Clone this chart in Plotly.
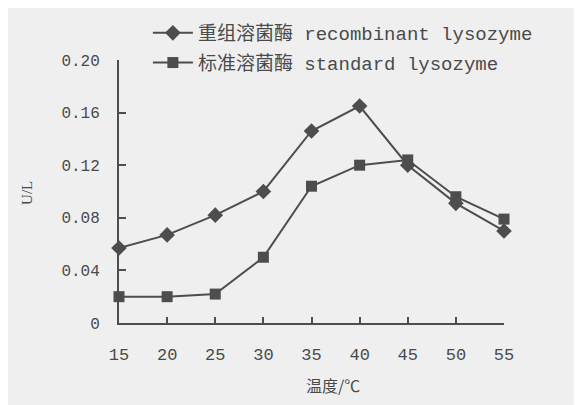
import plotly.graph_objects as go

temps = [15, 20, 25, 30, 35, 40, 45, 50, 55]
recombinant = [0.057, 0.067, 0.082, 0.100, 0.146, 0.165, 0.120, 0.091, 0.070]
standard = [0.020, 0.020, 0.022, 0.050, 0.104, 0.120, 0.124, 0.096, 0.079]
name_rec = "重组溶菌酶 recombinant lysozyme"
name_std = "标准溶菌酶 standard lysozyme"
y_ticks = [0, 0.04, 0.08, 0.12, 0.16, 0.20]
y_ticktext = ["0", "0.04", "0.08", "0.12", "0.16", "0.20"]
x_ticks = [15, 20, 25, 30, 35, 40, 45, 50, 55]
x_title = "温度/℃"
y_title = "U/L"

ink = "#4d4d4d"
txt = "#4a4a4a"
mono = "Liberation Mono, Noto Sans CJK SC, monospace"

fig = go.Figure()
fig.add_trace(go.Scatter(
    x=temps, y=recombinant, name=name_rec, mode="lines+markers",
    line=dict(color=ink, width=2),
    marker=dict(symbol="diamond", size=12, color=ink),
    cliponaxis=False, legendgroup="a",
))
fig.add_trace(go.Scatter(
    x=temps, y=standard, name=name_std, mode="lines+markers",
    line=dict(color=ink, width=2),
    marker=dict(symbol="square", size=11, color=ink),
    cliponaxis=False, legendgroup="b",
))

fig.update_layout(
    width=582, height=405,
    margin=dict(l=111, r=86, t=0, b=90, autoexpand=False),
    paper_bgcolor="#efefef", plot_bgcolor="#efefef",
    font=dict(family=mono, size=16, color=txt),
    showlegend=True,
    legend=dict(
        x=0.075, y=0.981, xanchor="left", yanchor="top",
        bgcolor="rgba(0,0,0,0)", font=dict(family=mono, size=19, color=txt),
        tracegroupgap=2, itemwidth=40,
    ),
    xaxis=dict(
        range=[15, 55], tickvals=x_ticks, showgrid=False, zeroline=False,
        showline=True, linecolor=ink, linewidth=2, automargin=False,
        ticks="inside", ticklen=6, tickwidth=2, tickcolor=ink,
        ticklabelstandoff=15,
        tickfont=dict(family=mono, size=17, color=txt),
    ),
    yaxis=dict(
        domain=[0, 0.835],
        range=[0, 0.2], tickvals=y_ticks, ticktext=y_ticktext,
        showgrid=False, zeroline=False, automargin=False,
        showline=True, linecolor=ink, linewidth=2,
        ticks="inside", ticklen=7, tickwidth=2, tickcolor=ink,
        ticklabelstandoff=14,
        tickfont=dict(family=mono, size=16, color=txt),
    ),
    annotations=[
        dict(text=x_title, xref="paper", yref="paper", x=0.555, y=-0.197,
             xanchor="center", yanchor="middle", showarrow=False,
             font=dict(family="Noto Sans CJK SC", size=16, color=txt)),
        dict(text=y_title, xref="paper", yref="paper", x=-0.239, y=0.413,
             xanchor="center", yanchor="middle", showarrow=False, textangle=-90,
             font=dict(family="Liberation Serif", size=15, color=txt)),
    ],
)

fig.write_html("out.html")
